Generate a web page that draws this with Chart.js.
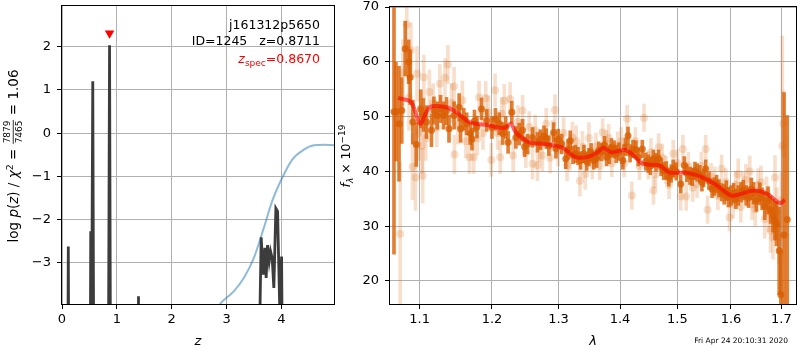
<!DOCTYPE html>
<html>
<head>
<meta charset="utf-8">
<script src="https://cdn.jsdelivr.net/npm/chart.js@4.4.0/dist/chart.umd.min.js"></script>
<style>
  html, body { margin: 0; padding: 0; background: #fff; }
  #wrap { position: relative; width: 800px; height: 350px; }
  #pz { position: absolute; left: 0; top: 0; }
  #spec { position: absolute; left: 335px; top: 0; }
</style>
</head>
<body>
<div id="wrap">
  <canvas id="pz" width="340" height="350"></canvas>
  <canvas id="spec" width="465" height="350"></canvas>
</div>
<script>
// ---- left panel: log p(z) ----
const zTicks = [0, 1, 2, 3, 4];
const logpTicks = [-3, -2, -1, 0, 1, 2];

const pzZ = [0, 0.10, 0.115, 0.13, 0.51, 0.524, 0.535, 0.561, 0.585, 0.84, 0.867, 0.89,
  1.385, 1.395, 1.405, 3.56, 3.632, 3.669, 3.699, 3.723, 3.748, 3.778, 3.803, 3.833,
  3.863, 3.900, 3.931, 3.973, 4.004, 4.035, 4.96];
const pzLogp = [-8, -8, -2.62, -8, -8, -2.27, -6, 1.20, -8, -8, 2.03, -8,
  -8, -3.77, -8, -8, -2.41, -3.27, -2.65, -3.35, -2.59, -2.96, -2.73, -2.89,
  -3.58, -1.74, -1.81, -4.2, -2.85, -8, -8];

const priorZ = [2.70, 2.888, 3.132, 3.315, 3.497, 3.68, 3.833, 4.016, 4.199, 4.411, 4.594, 4.75, 4.96];
const priorLogp = [-4.3, -3.94, -3.66, -3.35, -2.89, -2.19, -1.57, -1.03, -0.61, -0.38, -0.28, -0.27, -0.28];

const zSpec = 0.867;
const zSpecMarker = 2.31;

// ---- right panel: spectrum ----
const lamTicks = [1.1, 1.2, 1.3, 1.4, 1.5, 1.6, 1.7];
const fluxTicks = [20, 30, 40, 50, 60, 70];

const darkLam = [1.0665, 1.069, 1.073, 1.0765, 1.081, 1.0855, 1.0875, 1.091, 1.0955, 1.1014,
  1.105, 1.109, 1.1157, 1.119, 1.1235, 1.128, 1.132, 1.136, 1.1395, 1.1465, 1.1535, 1.1555,
  1.160, 1.164, 1.169, 1.1715, 1.175, 1.1785, 1.185, 1.1925, 1.200, 1.205, 1.2105, 1.2155,
  1.220, 1.2235, 1.229, 1.235, 1.240, 1.245, 1.248, 1.2525, 1.26, 1.2675, 1.272, 1.2775,
  1.281, 1.285, 1.2925, 1.296, 1.2995, 1.305, 1.3115, 1.315, 1.3185, 1.323, 1.327, 1.331,
  1.335, 1.3405, 1.345, 1.3485, 1.352, 1.3565, 1.361, 1.3645, 1.3695, 1.374, 1.3775, 1.382,
  1.3855, 1.390, 1.3935, 1.398, 1.4047, 1.409, 1.4135, 1.417, 1.422, 1.427, 1.431, 1.438,
  1.444, 1.4485, 1.452, 1.4575, 1.462, 1.4665, 1.471, 1.4755, 1.480, 1.4845, 1.489, 1.4925,
  1.498, 1.506, 1.5125, 1.517, 1.523, 1.527, 1.532, 1.536, 1.541, 1.545, 1.548, 1.552,
  1.558, 1.564, 1.568, 1.5725, 1.577, 1.582, 1.587, 1.591, 1.595, 1.600, 1.605, 1.6095,
  1.614, 1.6195, 1.624, 1.6295, 1.634, 1.6395, 1.644, 1.6495, 1.6562, 1.661, 1.6663, 1.673,
  1.678, 1.683, 1.687, 1.69, 1.6955, 1.699, 1.7055, 1.712];
const darkFlux = [50.9, 50.9, 48.7, 51.1, 62.4, 60.0, 57.2, 49.0, 44.9, 51.4,
  50.3, 49.0, 47.5, 51.1, 50.2, 51.4, 50.2, 51.0, 47.8, 50.2, 51.7, 47.8,
  49.5, 48.7, 46.9, 45.9, 49.2, 48.1, 51.4, 49.3, 48.0, 49.5, 48.7, 46.9,
  48.0, 45.3, 50.8, 46.2, 46.8, 47.5, 44.5, 45.0, 46.2, 45.3, 45.8, 46.5,
  46.0, 44.7, 47.1, 44.2, 45.9, 45.0, 42.3, 44.0, 45.6, 43.0, 43.2, 42.8,
  42.0, 43.2, 41.8, 42.6, 43.5, 42.0, 42.3, 43.8, 43.5, 44.8, 42.6, 43.0,
  44.4, 44.0, 43.2, 43.6, 42.0, 44.5, 46.5, 43.3, 44.1, 44.0, 42.6, 44.1,
  41.8, 41.4, 41.0, 42.3, 41.7, 42.3, 40.8, 40.1, 40.2, 38.9, 39.6, 40.5,
  40.0, 37.7, 41.1, 39.7, 39.2, 39.0, 40.1, 39.8, 39.5, 38.0, 38.8, 40.5,
  38.3, 36.8, 37.2, 37.7, 36.9, 36.2, 35.8, 36.5, 35.3, 35.6, 36.0, 35.0,
  35.6, 36.2, 36.6, 35.6, 35.2, 36.8, 36.0, 34.7, 35.9, 35.0, 33.7, 34.7,
  33.0, 31.9, 31.0, 30.4, 25.5, 17.5, 28.4, 31.2];
const darkErr = [26, 9, 10.5, 6, 5, 4, 5, 4, 4, 3.5,
  3, 3, 3, 2.5, 2.5, 2.5, 2.5, 2.5, 2.5, 2.5, 2.5, 2.5,
  2, 2, 2, 2, 2, 2, 2, 2, 2, 2, 2, 2,
  2, 2, 2, 2, 2, 2, 1.8, 1.8, 1.8, 1.8, 1.8, 1.8,
  1.8, 1.8, 1.8, 1.8, 1.8, 1.8, 1.8, 1.8, 1.8, 1.6, 1.6, 1.6,
  1.6, 1.6, 1.6, 1.6, 1.6, 1.6, 1.6, 1.6, 1.6, 1.6, 1.6, 1.6,
  1.6, 1.6, 1.6, 1.6, 1.6, 1.6, 1.6, 1.6, 1.6, 1.6, 1.6, 1.6,
  1.6, 1.6, 1.6, 1.6, 1.6, 1.6, 1.6, 1.6, 1.6, 1.6, 1.6, 1.6,
  1.6, 1.6, 1.6, 1.6, 1.6, 1.6, 1.6, 1.6, 1.6, 1.6, 1.6, 1.6,
  1.6, 1.6, 1.6, 1.6, 1.6, 1.6, 1.8, 1.8, 1.8, 1.8, 1.8, 1.8,
  1.8, 1.8, 1.8, 1.8, 1.8, 2, 2, 2, 2, 2, 2.5, 2.5,
  2.5, 3, 3.5, 4, 8, 8, 26, 19];

const lightLam = [1.0745, 1.078, 1.083, 1.086, 1.0885, 1.0905, 1.0945, 1.0965, 1.099, 1.103,
  1.104, 1.1055, 1.108, 1.113, 1.118, 1.123, 1.127, 1.134, 1.138, 1.143, 1.1465, 1.147,
  1.152, 1.158, 1.163, 1.168, 1.174, 1.179, 1.1815, 1.187, 1.191, 1.195, 1.199, 1.2045,
  1.208, 1.212, 1.214, 1.218, 1.2265, 1.231, 1.238, 1.245, 1.250, 1.255, 1.26, 1.264,
  1.2675, 1.271, 1.275, 1.281, 1.287, 1.291, 1.2945, 1.2995, 1.308, 1.3135, 1.318, 1.322,
  1.328, 1.334, 1.338, 1.3425, 1.3485, 1.354, 1.360, 1.366, 1.371, 1.377, 1.381, 1.386,
  1.396, 1.402, 1.407, 1.412, 1.42, 1.426, 1.433, 1.441, 1.4485, 1.453, 1.4575, 1.461,
  1.4665, 1.473, 1.4795, 1.485, 1.4925, 1.500, 1.506, 1.51, 1.516, 1.520, 1.528, 1.536,
  1.544, 1.552, 1.5555, 1.562, 1.569, 1.575, 1.582, 1.590, 1.597, 1.604, 1.609, 1.614,
  1.619, 1.6235, 1.629, 1.6365, 1.641, 1.6475, 1.653, 1.659, 1.6663, 1.670, 1.674, 1.678,
  1.683, 1.687, 1.691, 1.695, 1.700, 1.702, 1.704];
const lightFlux = [28.6, 58.0, 66.8, 53.5, 62.1, 40.8, 38.9, 57.8, 47.0, 44.7,
  39.2, 57.2, 46.0, 54.5, 52.5, 48.0, 56.0, 57.1, 59.5, 52.5, 55.5, 43.1,
  48.5, 53.0, 45.5, 42.6, 42.6, 46.0, 53.5, 47.0, 53.4, 50.8, 42.1, 54.8,
  47.0, 42.6, 50.5, 52.9, 53.2, 42.9, 49.0, 51.1, 43.5, 48.1, 41.4, 47.5,
  41.1, 44.5, 42.9, 48.7, 42.5, 46.5, 51.2, 43.8, 47.0, 41.1, 43.0, 46.2,
  45.5, 38.3, 44.5, 39.5, 46.1, 41.4, 44.5, 41.0, 47.1, 45.0, 46.1, 41.5,
  44.7, 45.5, 41.5, 49.6, 35.6, 45.5, 41.0, 49.8, 41.1, 43.5, 36.5, 39.5,
  44.4, 42.5, 40.3, 37.5, 43.2, 41.5, 35.4, 44.1, 35.4, 41.0, 37.0, 37.7,
  41.0, 44.1, 33.0, 39.0, 38.3, 35.5, 40.5, 38.0, 31.6, 34.0, 37.5, 39.5,
  33.5, 37.1, 38.5, 40.0, 34.0, 33.1, 37.5, 38.0, 31.3, 36.0, 32.5, 29.2,
  28.0, 38.9, 33.0, 28.0, 34.7, 44.7, 48.7];
const lightErr = [13, 6, 6, 6, 5, 6, 6, 5, 5, 5,
  5, 4, 4, 4, 3.5, 3.5, 3.5, 3.5, 3.5, 3.5, 3.5, 3.5,
  3.5, 3.5, 3, 3, 3, 3, 3, 3, 3, 3, 3, 3,
  3, 3, 3, 3, 3, 3, 3, 2.8, 2.8, 2.8, 2.8, 2.8,
  2.8, 2.8, 2.8, 2.8, 2.8, 2.8, 2.8, 2.8, 2.8, 2.8, 2.8, 2.8,
  2.8, 2.8, 2.8, 2.8, 2.8, 2.8, 2.5, 2.5, 2.5, 2.5, 2.5, 2.5,
  2.5, 2.5, 2.5, 2.5, 2.5, 2.5, 2.5, 2.5, 2.5, 2.5, 2.5, 2.5,
  2.5, 2.5, 2.5, 2.5, 2.5, 2.5, 2.5, 2.5, 2.5, 2.5, 2.5, 2.5,
  2.5, 2.5, 2.5, 2.5, 2.5, 2.5, 2.5, 2.5, 2.5, 2.5, 2.5, 2.8,
  2.8, 2.8, 2.8, 2.8, 2.8, 3, 3, 3, 3.5, 3, 3.5, 4,
  4, 4, 4, 5, 5, 20, 6];

const modelLam = [1.0717, 1.0889, 1.1005, 1.1133, 1.136, 1.1496, 1.168, 1.1955, 1.2175, 1.2275,
  1.235, 1.2552, 1.2797, 1.305, 1.327, 1.345, 1.359, 1.3725, 1.3855, 1.4077, 1.42, 1.4385,
  1.468, 1.4857, 1.5137, 1.539, 1.5692, 1.600, 1.6196, 1.6458, 1.671, 1.697, 1.707];
const modelFlux = [53.4, 52.6, 48.7, 51.7, 51.7, 50.8, 49.0, 48.4, 47.9, 48.7,
  47.1, 45.3, 45.0, 44.4, 42.6, 42.6, 43.2, 44.3, 43.5, 43.9, 43.2, 41.4,
  41.1, 39.8, 39.8, 39.2, 37.7, 35.6, 35.9, 36.5, 35.9, 34.2, 34.8];

// ---- shared styling ----
Chart.defaults.font.family = "'DejaVu Sans', sans-serif";
Chart.defaults.font.size = 13;
Chart.defaults.color = '#000';

const gridStyle = { color: '#b0b0b0', lineWidth: 1, tickColor: '#000', tickLength: 5, tickWidth: 1, offset: false };
const minus = v => (v < 0 ? '\u2212' + Math.abs(v) : String(v));

function fixBox(w, h) {
  return (scale) => {
    if (w != null) scale.width = w;
    if (h != null) scale.height = h;
    scale.paddingTop = 0; scale.paddingBottom = 0;
    scale.paddingLeft = 0; scale.paddingRight = 0;
  };
}
function setTicks(list) {
  return (scale) => { scale.ticks = list.map(v => ({ value: v })); };
}

// draw a run of text pieces along one baseline, centred on x
function drawRich(ctx, x, y, parts) {
  const widths = parts.map(p => {
    ctx.font = p.font;
    if (p.frac) return Math.max(ctx.measureText(p.frac[0]).width, ctx.measureText(p.frac[1]).width) + 2;
    return ctx.measureText(p.text).width;
  });
  let cx = x - widths.reduce((a, b) => a + b, 0) / 2;
  parts.forEach((p, i) => {
    ctx.font = p.font;
    ctx.fillStyle = p.color || '#000';
    if (p.frac) {
      ctx.textAlign = 'center';
      const mid = cx + widths[i] / 2;
      ctx.fillText(p.frac[0], mid, y - 8);
      ctx.fillText(p.frac[1], mid, y + 4);
      ctx.fillRect(cx + 0.5, y - 5.2, widths[i] - 1, 0.8);
      ctx.textAlign = 'left';
    } else {
      ctx.textAlign = 'left';
      ctx.fillText(p.text, cx, y + (p.dy || 0));
    }
    cx += widths[i];
  });
}

const F = "'DejaVu Sans', sans-serif";
const base = '12.5px ' + F, ital = 'italic 12.5px ' + F, sup = '9px ' + F, itsub = 'italic 9px ' + F;
const lbase = '13.5px ' + F, lital = 'italic 13.5px ' + F, lsup = '9.5px ' + F;

const framePlugin = {
  id: 'frame',
  afterDraw(chart) {
    const { ctx, chartArea: a } = chart;
    ctx.save();
    ctx.strokeStyle = '#000';
    ctx.lineWidth = 1;
    ctx.strokeRect(Math.round(a.left) - 0.5, Math.round(a.top) - 0.5, Math.round(a.right - a.left) + 1, Math.round(a.bottom - a.top) + 1);
    ctx.restore();
  }
};

const pzTextPlugin = {
  id: 'pzText',
  afterDraw(chart) {
    const ctx = chart.ctx;
    ctx.save();
    ctx.textBaseline = 'alphabetic';
    ctx.font = base; ctx.fillStyle = '#000'; ctx.textAlign = 'right';
    ctx.fillText('j161312p5650', 320, 29);
    ctx.fillText('ID=1245   z=0.8711', 320, 45);
    // red z_spec label, laid out from the right
    ctx.fillStyle = 'red';
    ctx.font = base; const wv = ctx.measureText('=0.8670').width;
    ctx.font = sup; const ws = ctx.measureText('spec').width;
    ctx.font = ital; const wz = ctx.measureText('z').width;
    ctx.textAlign = 'left';
    ctx.font = base; ctx.fillText('=0.8670', 320 - wv, 63);
    ctx.font = sup; ctx.fillText('spec', 320 - wv - ws, 66);
    ctx.font = ital; ctx.fillText('z', 320 - wv - ws - wz, 63);
    // y axis label
    ctx.translate(13, 156);
    ctx.rotate(-Math.PI / 2);
    drawRich(ctx, 0, 5, [
      { text: 'log ', font: lbase }, { text: 'p', font: lital }, { text: '(', font: lbase },
      { text: 'z', font: lital }, { text: ') / ', font: lbase }, { text: '\u03c7', font: lital },
      { text: '2', font: lsup, dy: -5.5 }, { text: ' = ', font: lbase },
      { frac: ['7879', '7465'], font: '9px ' + F }, { text: ' = 1.06', font: lbase }
    ]);
    ctx.restore();
  }
};

const specTextPlugin = {
  id: 'specText',
  afterDraw(chart) {
    const ctx = chart.ctx;
    ctx.save();
    ctx.textBaseline = 'alphabetic';
    ctx.font = '7.5px ' + F; ctx.fillStyle = '#000'; ctx.textAlign = 'right';
    ctx.fillText('Fri Apr 24 20:10:31 2020', 453, 343);
    ctx.translate(10, 156);
    ctx.rotate(-Math.PI / 2);
    drawRich(ctx, 0, 4.5, [
      { text: 'f', font: ital }, { text: '\u03bb', font: itsub, dy: 3 },
      { text: ' \u00d7 10', font: base }, { text: '\u221219', font: sup, dy: -5 }
    ]);
    ctx.restore();
  }
};

// ---- left chart ----
new Chart(document.getElementById('pz'), {
  type: 'scatter',
  data: {
    datasets: [
      {
        data: [{ x: zSpec, y: zSpecMarker }],
        pointStyle: 'triangle', rotation: 180, pointRadius: 5.5,
        backgroundColor: 'red', borderColor: 'red', borderWidth: 0, order: 0
      },
      {
        data: pzZ.map((z, i) => ({ x: z, y: pzLogp[i] })),
        showLine: true, borderColor: '#3c3c3c', borderWidth: 2.8,
        pointRadius: 0, clip: 0, order: 1
      },
      {
        data: priorZ.map((z, i) => ({ x: z, y: priorLogp[i] })),
        showLine: true, borderColor: 'rgba(31,119,180,0.5)', borderWidth: 2,
        pointRadius: 0, cubicInterpolationMode: 'monotone', clip: 0, order: 2
      }
    ]
  },
  options: {
    responsive: false, animation: false, devicePixelRatio: 1,
    layout: { padding: { left: 0, top: 6, right: 6, bottom: 0 } },
    plugins: { legend: { display: false }, tooltip: { enabled: false } },
    scales: {
      x: {
        type: 'linear', min: 0, max: 4.96, bounds: 'data',
        afterBuildTicks: setTicks(zTicks), afterFit: fixBox(null, 46),
        grid: gridStyle, border: { display: false },
        ticks: { padding: 3, maxRotation: 0, callback: minus },
        title: { display: true, text: 'z', font: { style: 'italic', size: 13 }, padding: { top: 0, bottom: 1 } }
      },
      y: {
        type: 'linear', min: -3.95, max: 2.94, bounds: 'data',
        afterBuildTicks: setTicks(logpTicks), afterFit: fixBox(62, null),
        grid: gridStyle, border: { display: false },
        ticks: { padding: 6, callback: minus }
      }
    }
  },
  plugins: [framePlugin, pzTextPlugin]
});

// ---- right chart ----
const errBar = (lam, flux, err) => lam.map((l, i) => ({ x: l, y: [flux[i] - err[i], flux[i] + err[i]] }));
const pts = (lam, flux) => lam.map((l, i) => ({ x: l, y: flux[i] }));

new Chart(document.getElementById('spec'), {
  type: 'scatter',
  data: {
    datasets: [
      {
        type: 'line', data: pts(modelLam, modelFlux),
        borderColor: 'rgba(255,0,0,0.6)', borderWidth: 4, pointRadius: 0,
        tension: 0.3, order: 0
      },
      {
        type: 'scatter', data: pts(darkLam, darkFlux),
        backgroundColor: 'rgba(217,95,2,0.8)', borderWidth: 0, pointRadius: 3.5, order: 1
      },
      {
        type: 'bar', data: errBar(darkLam, darkFlux, darkErr),
        backgroundColor: 'rgba(217,95,2,0.8)', borderWidth: 0, barThickness: 3,
        grouped: false, order: 2
      },
      {
        type: 'scatter', data: pts(lightLam, lightFlux),
        backgroundColor: 'rgba(217,95,2,0.2)', borderWidth: 0, pointRadius: 4, order: 3
      },
      {
        type: 'bar', data: errBar(lightLam, lightFlux, lightErr),
        backgroundColor: 'rgba(217,95,2,0.2)', borderWidth: 0, barThickness: 3,
        grouped: false, order: 4
      }
    ]
  },
  options: {
    responsive: false, animation: false, devicePixelRatio: 1,
    layout: { padding: { left: 0, top: 7, right: 1, bottom: 0 } },
    plugins: { legend: { display: false }, tooltip: { enabled: false } },
    scales: {
      x: {
        type: 'logarithmic', min: 1.0614, max: 1.7302, bounds: 'data', offset: false,
        afterBuildTicks: setTicks(lamTicks), afterFit: fixBox(null, 46),
        grid: gridStyle, border: { display: false },
        ticks: { padding: 3, maxRotation: 0, autoSkip: false, callback: v => Number(v).toFixed(1) },
        title: { display: true, text: '\u03bb', font: { style: 'italic', size: 13 }, padding: { top: 0, bottom: 1 } }
      },
      y: {
        type: 'linear', min: 15.8, max: 70, bounds: 'data',
        afterBuildTicks: setTicks(fluxTicks), afterFit: fixBox(55, null),
        grid: gridStyle, border: { display: false },
        ticks: { padding: 6 }
      }
    }
  },
  plugins: [framePlugin, specTextPlugin]
});
</script>
</body>
</html>
